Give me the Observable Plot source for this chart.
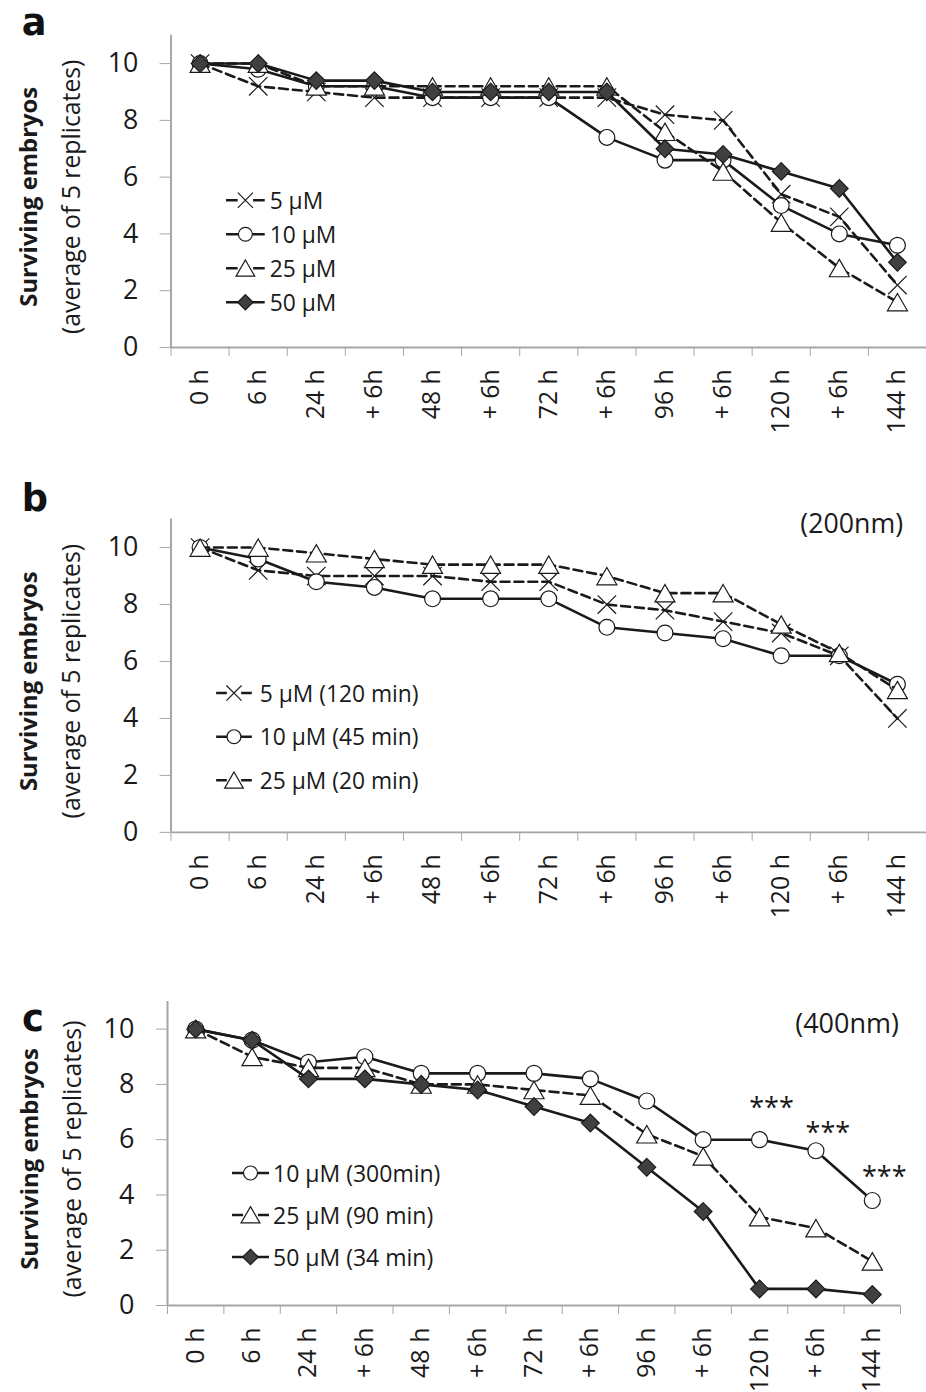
<!DOCTYPE html>
<html><head><meta charset="utf-8">
<script src="https://cdn.jsdelivr.net/npm/d3@7"></script>
<script src="https://cdn.jsdelivr.net/npm/@observablehq/plot@0.6"></script>
<style>
html,body{margin:0;padding:0;background:#fff;overflow:hidden}
#fig{position:relative;width:926px;height:1392px;overflow:hidden;background:#fff}
.panel{position:absolute;left:0}
.panel svg{overflow:visible;display:block}
</style></head><body><div id="fig"></div>
<script>
// ---------- data ----------
const categories = ["0 h","6 h","24 h","+ 6h","48 h","+ 6h","72 h","+ 6h","96 h","+ 6h","120 h","+ 6h","144 h"];
const yTicks = [0, 2, 4, 6, 8, 10];

// panel a
const a5  = [10, 9.2, 9.0, 8.8, 8.8, 8.8, 8.8, 8.8, 8.2, 8.0, 5.4, 4.6, 2.2];
const a10 = [10, 9.8, 9.2, 9.2, 8.8, 8.8, 8.8, 7.4, 6.6, 6.6, 5.0, 4.0, 3.6];
const a25 = [10, 10,  9.2, 9.2, 9.2, 9.2, 9.2, 9.2, 7.6, 6.2, 4.4, 2.8, 1.6];
const a50 = [10, 10,  9.4, 9.4, 9.0, 9.0, 9.0, 9.0, 7.0, 6.8, 6.2, 5.6, 3.0];
const legendA = ["5 µM", "10 µM", "25 µM", "50 µM"];

// panel b (200nm)
const b5  = [10, 9.2, 9.0, 9.0, 9.0, 8.8, 8.8, 8.0, 7.8, 7.4, 7.0, 6.2, 4.0];
const b10 = [10, 9.6, 8.8, 8.6, 8.2, 8.2, 8.2, 7.2, 7.0, 6.8, 6.2, 6.2, 5.2];
const b25 = [10, 10,  9.8, 9.6, 9.4, 9.4, 9.4, 9.0, 8.4, 8.4, 7.3, 6.3, 5.0];
const legendB = ["5 µM (120 min)", "10 µM (45 min)", "25 µM (20 min)"];
const noteB = "(200nm)";

// panel c (400nm)
const c10 = [10, 9.6, 8.8, 9.0, 8.4, 8.4, 8.4, 8.2, 7.4, 6.0, 6.0, 5.6, 3.8];
const c25 = [10, 9.0, 8.6, 8.6, 8.0, 8.0, 7.8, 7.6, 6.2, 5.4, 3.2, 2.8, 1.6];
const c50 = [10, 9.6, 8.2, 8.2, 8.0, 7.8, 7.2, 6.6, 5.0, 3.4, 0.6, 0.6, 0.4];
const legendC = ["10 µM (300min)", "25 µM (90 min)", "50 µM (34 min)"];
const noteC = "(400nm)";
const starCats = [10, 11, 12];
const starValues = [7.4, 6.5, 4.9];
const starText = "***";

const yTitle1 = "Surviving embryos";
const yTitle2 = "(average of 5 replicates)";

// ---------- styles ----------
const INK = "#1a1a1a", AXIS = "#a6a6a6";
const FONT = "'Open Sans', 'DejaVu Sans', sans-serif";
const seriesStyle = {
  "5":  {symbol: "times",    dash: "9,5", fill: "none",    r: 8.5, dy: 0},
  "10": {symbol: "circle",   dash: null,  fill: "white",   r: 8,   dy: 0},
  "25": {symbol: "triangle", dash: "9,5", fill: "white",   r: 7.5, dy: 3},
  "50": {symbol: "diamond2", dash: null,  fill: "#404040", r: 8,   dy: 0}
};
const d3sym = {times: d3.symbolTimes, circle: d3.symbolCircle, triangle: d3.symbolTriangle, diamond2: d3.symbolDiamond2};

function rowsOf(values) { return values.map((v, i) => ({i, cat: categories[i], v})); }

function makePanel(cfg) {
  const marks = [
    Plot.ruleY([0], {stroke: AXIS, strokeWidth: 2}),
    Plot.ruleX([0], {stroke: AXIS, strokeWidth: 2}),
    Plot.axisY({ticks: yTicks, tickSize: 11, tickPadding: 22, fontSize: 27, stroke: AXIS, fill: INK, label: null}),
    Plot.axisX({ticks: d3.range(categories.length + 1), tickSize: 9, tickFormat: () => "", stroke: AXIS, label: null}),
    Plot.axisX({ticks: d3.range(categories.length).map(i => i + 0.5), tickSize: 0, tickPadding: 22, tickRotate: -90,
      tickFormat: t => categories[Math.floor(t)], fontSize: 25, fill: INK, label: null})
  ];
  for (const s of cfg.series) {
    const st = seriesStyle[s.key];
    const rows = rowsOf(s.values);
    marks.push(Plot.line(rows, {x: d => d.i + 0.5, y: "v", stroke: INK, strokeWidth: 2.6, strokeDasharray: st.dash}));
    marks.push(Plot.dot(rows, {x: d => d.i + 0.5, y: "v", symbol: st.symbol, r: st.r, dy: st.dy,
      fill: st.fill, stroke: INK, strokeWidth: 1.2}));
  }
  if (cfg.stars) {
    marks.push(Plot.text(cfg.stars, {x: d => d.cat + 0.5, y: "value", text: () => starText, dx: 12, dy: 7,
      fontSize: 27, fill: INK}));
  }
  const svg = Plot.plot({
    width: cfg.width, height: cfg.height,
    marginLeft: cfg.ml, marginRight: cfg.mr, marginTop: cfg.mt, marginBottom: cfg.mb,
    style: {fontFamily: FONT, color: INK, background: "white"},
    x: {type: "linear", domain: [0, categories.length]},
    y: {domain: [0, 11]},
    marks
  });
  const g = d3.select(svg);
  const frameMid = cfg.mt + (cfg.height - cfg.mt - cfg.mb) / 2 + 6;
  // panel letter
  g.append("text").attr("x", 22).attr("y", cfg.letterY).attr("text-anchor", "start").text(cfg.letter)
    .attr("font-family", "'DejaVu Sans', sans-serif").attr("font-weight", "bold").attr("font-size", 37).attr("fill", "#111");
  // y titles
  g.append("text").attr("transform", `translate(28,${frameMid}) rotate(-90)`).attr("text-anchor", "middle")
    .attr("dominant-baseline", "central").attr("font-family", FONT).attr("font-weight", "bold").attr("font-size", 24)
    .attr("fill", INK).text(yTitle1);
  g.append("text").attr("transform", `translate(71,${frameMid}) rotate(-90)`).attr("text-anchor", "middle")
    .attr("dominant-baseline", "central").attr("font-family", FONT).attr("font-size", 25)
    .attr("fill", INK).text(yTitle2);
  // note
  if (cfg.note) {
    g.append("text").attr("x", cfg.note.x).attr("y", cfg.note.y).attr("text-anchor", "end")
      .attr("dominant-baseline", "central").attr("font-family", FONT).attr("font-size", 27).attr("fill", INK).text(cfg.note.text);
  }
  // legend
  const L = cfg.legend;
  cfg.series.forEach((s, k) => {
    const st = seriesStyle[s.key];
    const y = L.y0 + k * L.dy;
    const len = L.x1 - L.x0;
    g.append("line").attr("x1", L.x0).attr("x2", L.x1).attr("y1", y).attr("y2", y)
      .attr("stroke", INK).attr("stroke-width", 2.6)
      .attr("stroke-dasharray", st.dash ? `${len * 0.3},${len * 0.4},${len * 0.3}` : null);
    const r = 7;
    const sym = d3.symbol(d3sym[st.symbol], Math.PI * r * r);
    g.append("path").attr("d", sym()).attr("transform", `translate(${(L.x0 + L.x1) / 2},${y + (st.dy ? 2.5 : 0)})`)
      .attr("fill", st.fill).attr("stroke", INK).attr("stroke-width", 1.2);
    g.append("text").attr("x", L.tx).attr("y", y).attr("text-anchor", "start").attr("dominant-baseline", "central")
      .attr("font-family", FONT).attr("font-size", 23).attr("fill", INK).text(s.label);
  });
  const wrap = document.createElement("div");
  wrap.className = "panel";
  wrap.style.top = cfg.top + "px";
  wrap.appendChild(svg);
  document.getElementById("fig").appendChild(wrap);
}

makePanel({
  top: 0, width: 934, height: 470, ml: 172, mr: 0, mt: 35, mb: 120,
  letter: "a", letterY: 35,
  series: [{key: "5", values: a5, label: legendA[0]}, {key: "10", values: a10, label: legendA[1]},
           {key: "25", values: a25, label: legendA[2]}, {key: "50", values: a50, label: legendA[3]}],
  legend: {x0: 228, x1: 267, tx: 272, y0: 202, dy: 34.3}
});
makePanel({
  top: 470, width: 934, height: 505, ml: 172, mr: 0, mt: 49, mb: 140,
  letter: "b", letterY: 41,
  series: [{key: "5", values: b5, label: legendB[0]}, {key: "10", values: b10, label: legendB[1]},
           {key: "25", values: b25, label: legendB[2]}],
  legend: {x0: 218, x1: 254, tx: 262, y0: 225, dy: 44},
  note: {text: noteB, x: 911, y: 53}
});
makePanel({
  top: 975, width: 926, height: 417, ml: 167, mr: 26, mt: 26, mb: 87,
  letter: "c", letterY: 56,
  series: [{key: "10", values: c10, label: legendC[0]}, {key: "25", values: c25, label: legendC[1]},
           {key: "50", values: c50, label: legendC[2]}],
  legend: {x0: 232, x1: 269, tx: 273, y0: 198, dy: 42},
  note: {text: noteC, x: 899, y: 47},
  stars: starCats.map((cat, i) => ({cat, value: starValues[i]}))
});
</script></body></html>
